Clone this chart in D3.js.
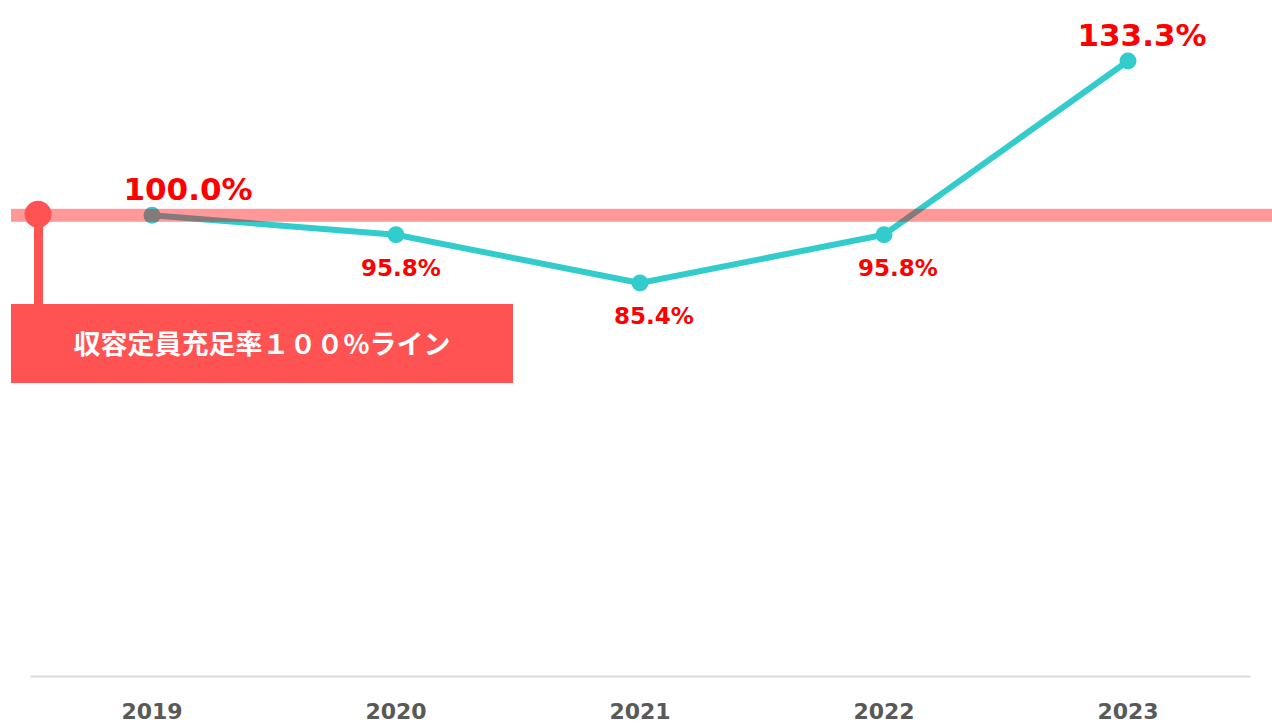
<!DOCTYPE html>
<html>
<head>
<meta charset="utf-8">
<title>収容定員充足率</title>
<script src="https://cdn.jsdelivr.net/npm/d3@7/dist/d3.min.js"></script>
<style>
  * { margin: 0; padding: 0; }
  body { background: #fff; }
</style>
</head>
<body>
<div id="chart"></div>
<script>
  var years = ["2019", "2020", "2021", "2022", "2023"];
  var rates = [100.0, 95.8, 85.4, 95.8, 133.3];
  var lineText = "収容定員充足率１００%ライン";
  var baseRate = 100;

  var W = 1272, H = 723;
  var svg = d3.select("#chart").append("svg")
      .attr("width", W).attr("height", H);

  var x = d3.scaleBand().domain(years).range([30, 1250]);
  var y = d3.scaleLinear().domain([0, 140]).range([678.8, 29.9]);
  var cx = function(d) { return x(d) + x.bandwidth() / 2; };

  // x axis
  var xAxis = d3.axisBottom(x).tickSize(0).tickPadding(27);
  var ax = svg.append("g").attr("transform", "translate(0,676)").call(xAxis);
  ax.select(".domain").attr("stroke", "#d9d9d9").attr("stroke-width", 2);
  ax.selectAll("text")
      .attr("font-family", "DejaVu Sans, sans-serif")
      .attr("font-weight", "bold")
      .attr("font-size", 22)
      .attr("fill", "#595959");

  // line + points
  var pts = years.map(function(d, i) { return { year: d, v: rates[i], i: i }; });
  var line = d3.line().x(function(d) { return cx(d.year); }).y(function(d) { return y(d.v); });
  svg.append("path").datum(pts)
      .attr("d", line)
      .attr("fill", "none")
      .attr("stroke", "#33cccc")
      .attr("stroke-width", 6)
      .attr("stroke-linejoin", "round");
  svg.selectAll("circle.pt").data(pts).enter().append("circle")
      .attr("class", "pt")
      .attr("cx", function(d) { return cx(d.year); })
      .attr("cy", function(d) { return y(d.v); })
      .attr("r", 8.5)
      .attr("fill", "#33cccc");

  // 100% band (semi transparent, drawn over the line)
  var by = y(baseRate);
  svg.append("rect")
      .attr("x", 11).attr("y", by - 6.5)
      .attr("width", W - 11).attr("height", 13)
      .attr("fill", "#ff0000").attr("opacity", 0.4);

  // marker, stem and callout box
  var red = "#ff5252";
  svg.append("rect").attr("x", 34).attr("y", by).attr("width", 9).attr("height", 304 - by).attr("fill", red);
  svg.append("circle").attr("cx", 38).attr("cy", by - 1).attr("r", 13.5).attr("fill", red);
  svg.append("rect").attr("x", 11).attr("y", 304).attr("width", 502).attr("height", 79).attr("fill", red);
  svg.append("text")
      .attr("x", 262).attr("y", 342)
      .attr("text-anchor", "middle")
      .attr("dominant-baseline", "central")
      .attr("font-family", "Noto Sans CJK JP, sans-serif")
      .attr("font-weight", "bold")
      .attr("font-size", 27)
      .attr("fill", "#fff")
      .text(lineText);

  // value labels
  var last = pts.length - 1;
  var dxMap = { 0: 36, 1: 5 };
  svg.selectAll("text.val").data(pts).enter().append("text")
      .attr("class", "val")
      .attr("x", function(d) { return cx(d.year) + (dxMap[d.i] !== undefined ? dxMap[d.i] : 14); })
      .attr("y", function(d) {
        var big = d.i === 0 || d.i === last;
        return y(d.v) + (big ? -15 : 41);
      })
      .attr("text-anchor", "middle")
      .attr("font-family", "DejaVu Sans, sans-serif")
      .attr("font-weight", "bold")
      .attr("font-size", function(d) { return (d.i === 0 || d.i === last) ? 31 : 23; })
      .attr("fill", "#ff0000")
      .text(function(d) { return d.v.toFixed(1) + "%"; });
</script>
</body>
</html>
